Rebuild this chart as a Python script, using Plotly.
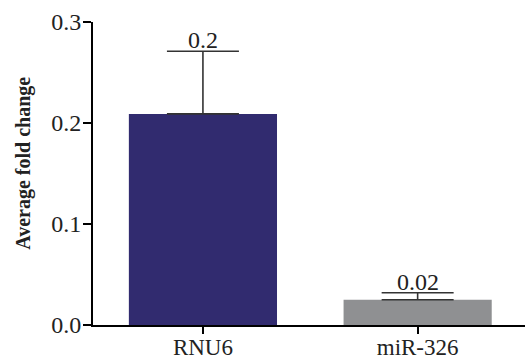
import plotly.graph_objects as go

categories = ["RNU6", "miR-326"]
means = [0.209, 0.025]
errors_up = [0.062, 0.007]
labels = ["0.2", "0.02"]
colors = ["#312B6F", "#8F9092"]
y_ticks = [0.0, 0.1, 0.2, 0.3]

font_family = "Liberation Serif"
text_color = "#222222"

fig = go.Figure()
fig.add_trace(go.Bar(
    x=categories,
    y=means,
    marker=dict(color=colors, line=dict(width=0)),
    error_y=dict(
        type="data",
        symmetric=False,
        array=errors_up,
        arrayminus=[0] * len(errors_up),
        color="#333333",
        thickness=1.6,
        width=36,
    ),
    showlegend=False,
))

for c, m, e, t in zip(categories, means, errors_up, labels):
    fig.add_annotation(
        x=c, y=m + e, text=t, showarrow=False,
        xanchor="center", yanchor="bottom", yshift=-4,
        font=dict(family=font_family, size=24, color=text_color),
    )

fig.add_annotation(
    xref="paper", yref="paper", x=-0.160, y=0.535,
    xanchor="center", yanchor="middle",
    text="<b>Average fold change</b>", textangle=-90, showarrow=False,
    font=dict(family=font_family, size=20, color=text_color),
)

fig.update_layout(
    width=525, height=358,
    margin=dict(l=93, r=0, t=22, b=33, autoexpand=False),
    plot_bgcolor="white", paper_bgcolor="white",
    bargap=0.31,
    font=dict(family=font_family, size=24, color=text_color),
)
fig.update_xaxes(
    range=[-0.512, 1.5], automargin=False,
    showline=True, linecolor="black", linewidth=2,
    ticks="outside", ticklen=7, tickwidth=2, tickcolor="black",
    ticklabelstandoff=-7,
    showgrid=False, zeroline=False,
    tickfont=dict(family=font_family, size=23, color=text_color),
)
fig.update_yaxes(
    range=[0, 0.3], automargin=False,
    tickvals=y_ticks, tickformat=".1f",
    showline=True, linecolor="black", linewidth=2,
    ticks="outside", ticklen=8, tickwidth=2, tickcolor="black",
    ticklabelstandoff=-3,
    showgrid=False, zeroline=False,
    tickfont=dict(family=font_family, size=24, color=text_color),
)

fig.write_html(
    "out.html",
    config={"displayModeBar": False},
    post_script="document.body.style.margin='0';document.body.style.overflow='hidden';",
)
